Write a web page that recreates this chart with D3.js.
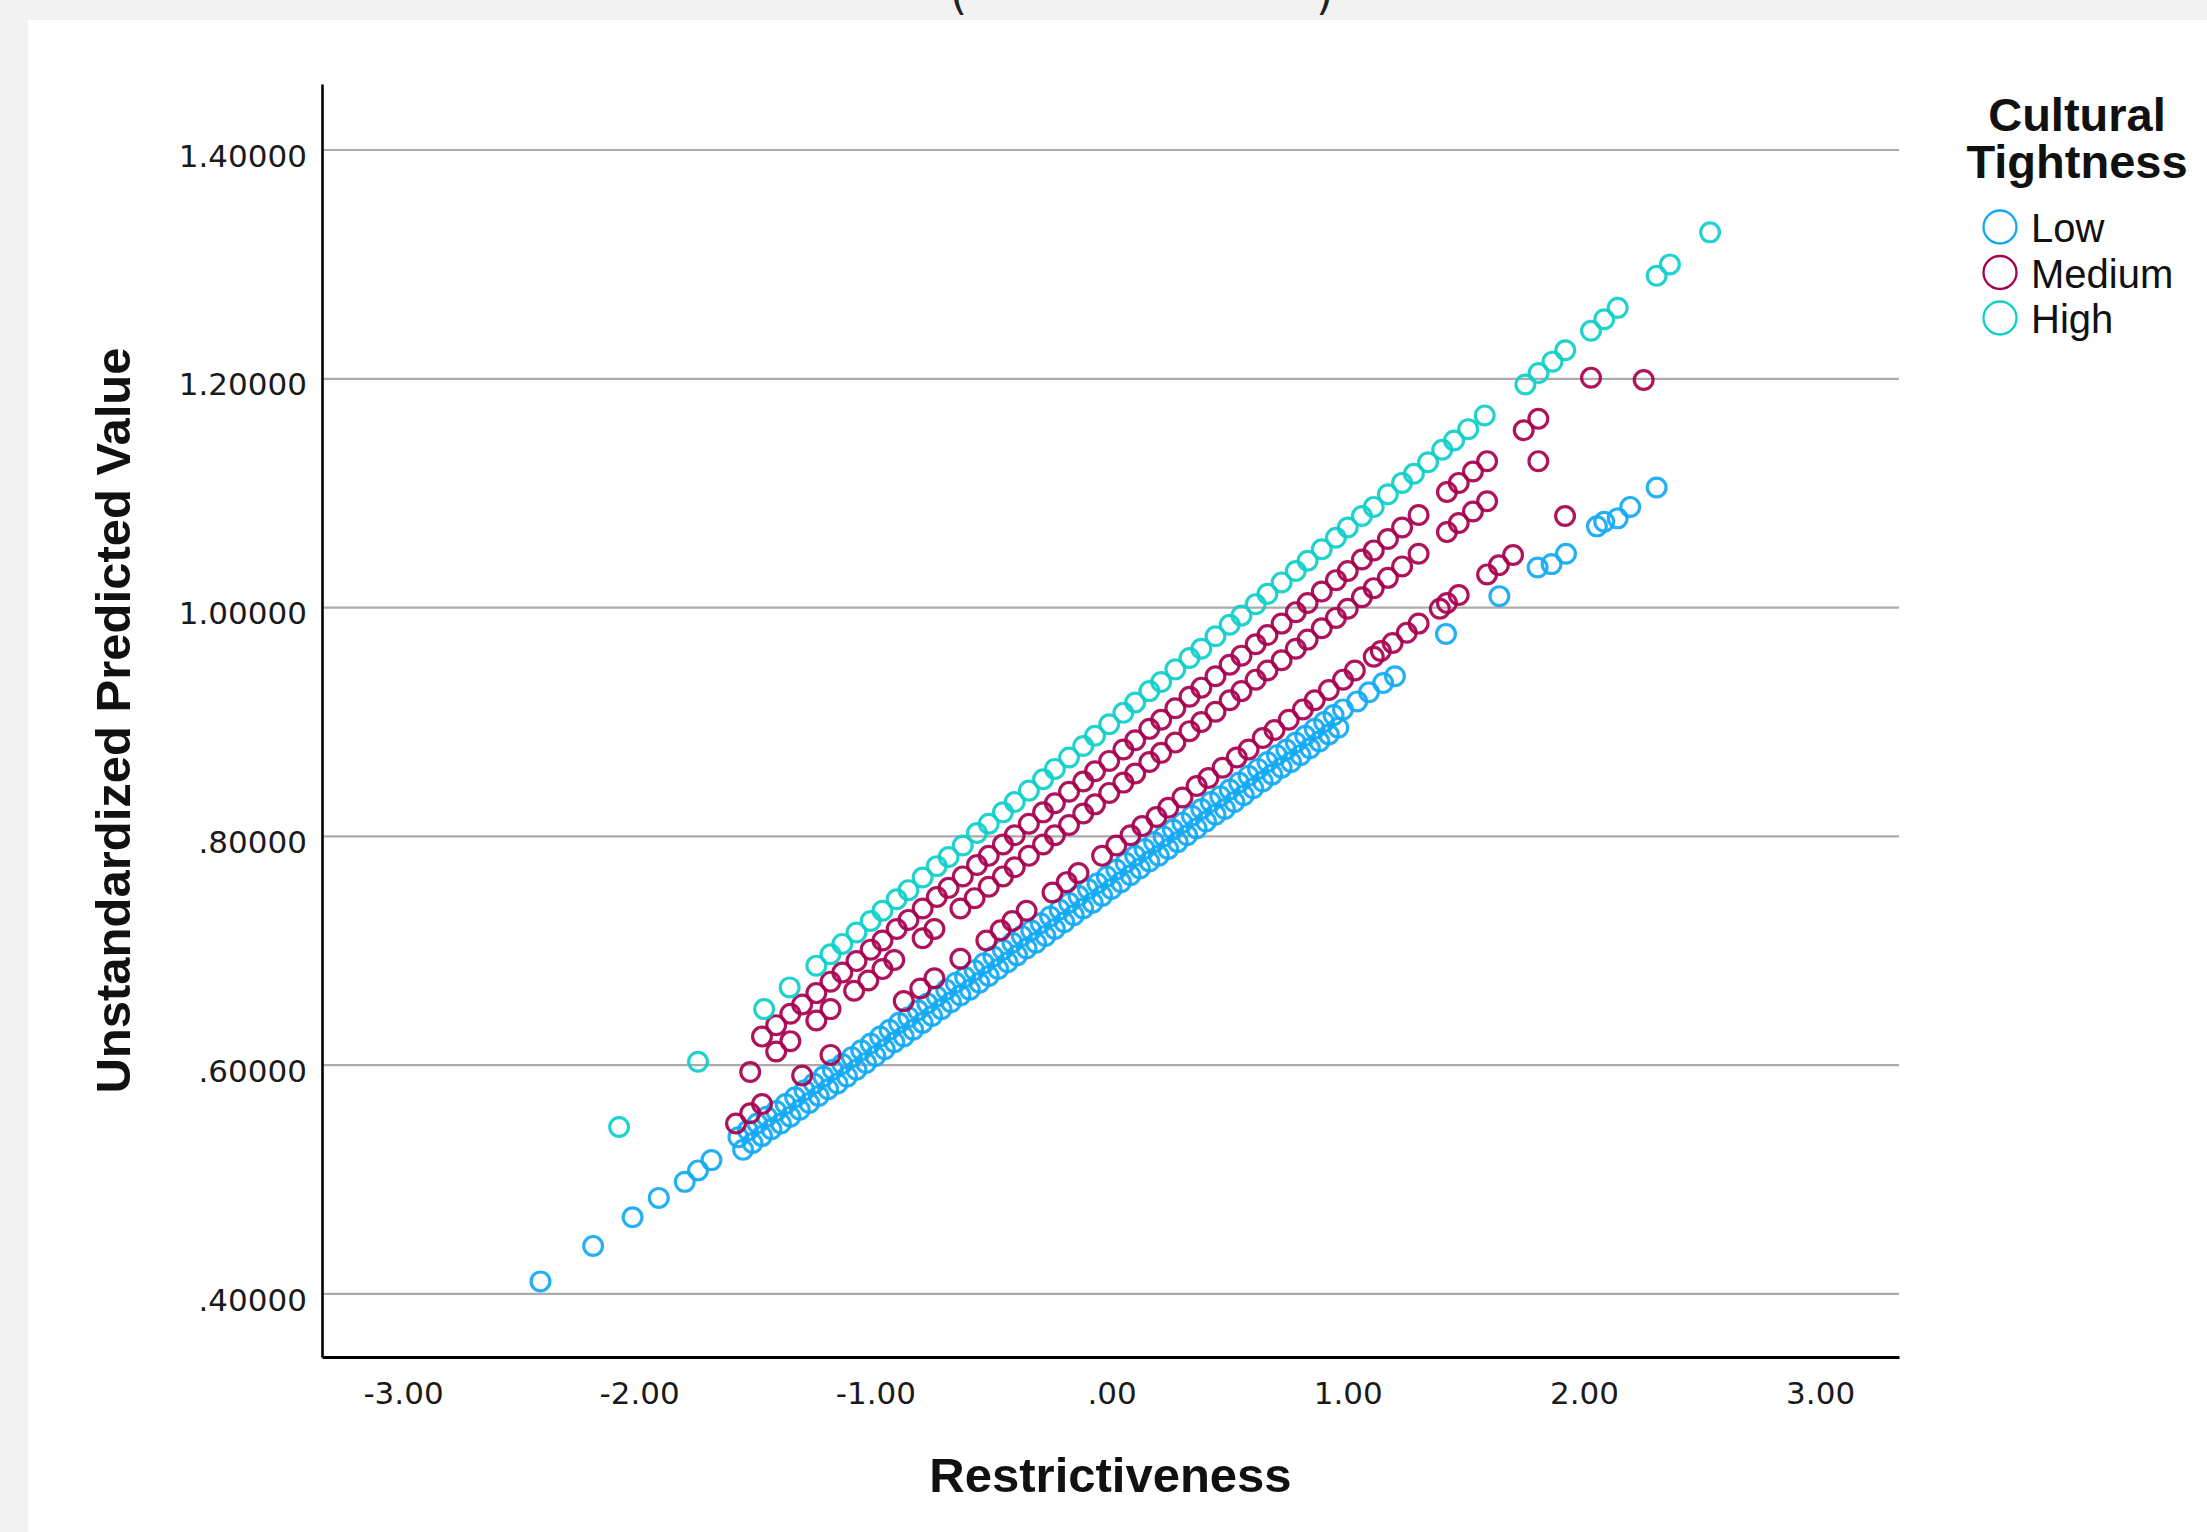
<!DOCTYPE html>
<html><head><meta charset="utf-8">
<script src="https://cdn.jsdelivr.net/npm/d3@7/dist/d3.min.js"></script>
<style>
body{margin:0;background:#f2f2f2;}
svg{display:block;}
</style>
</head><body>
<svg id="chart" width="2207" height="1532"></svg>
<script>
// ---------- data ----------
const seriesNames = ["Low", "Medium", "High"];
const seriesColors = ["#12a9f4", "#a6004e", "#0fcfc9"];

const xTickValues = [-3, -2, -1, 0, 1, 2, 3];
const xTickLabels = ["-3.00", "-2.00", "-1.00", ".00", "1.00", "2.00", "3.00"];
const yTickValues = [0.4, 0.6, 0.8, 1.0, 1.2, 1.4];
const yTickLabels = [".40000", ".60000", ".80000", "1.00000", "1.20000", "1.40000"];

const xTitle = "Restrictiveness";
const yTitle = "Unstandardized Predicted Value";
const legendTitle = ["Cultural", "Tightness"];

const lowX = [-2.418,-2.195,-2.028,-1.917,-1.807,-1.751,-1.694,
  -1.58,-1.56,-1.54,-1.52,-1.50,-1.48,-1.46,-1.44,-1.42,-1.40,-1.38,-1.36,-1.34,-1.32,-1.30,-1.28,-1.26,-1.24,-1.22,-1.20,
  -1.18,-1.16,-1.14,-1.12,-1.10,-1.08,-1.06,-1.04,-1.02,-1.00,-0.98,-0.96,-0.94,-0.92,-0.90,-0.88,-0.86,-0.84,-0.82,-0.80,
  -0.78,-0.76,-0.74,-0.72,-0.70,-0.68,-0.66,-0.64,-0.62,-0.60,-0.58,-0.56,-0.54,-0.52,-0.50,-0.48,-0.46,-0.44,-0.42,-0.40,
  -0.38,-0.36,-0.34,-0.32,-0.30,-0.28,-0.26,-0.24,-0.22,-0.20,-0.18,-0.16,-0.14,-0.12,-0.10,-0.08,-0.06,-0.04,-0.02,0.00,
  0.02,0.04,0.06,0.08,0.10,0.12,0.14,0.16,0.18,0.20,0.22,0.24,0.26,0.28,0.30,0.32,0.34,0.36,0.38,0.40,
  0.42,0.44,0.46,0.48,0.50,0.52,0.54,0.56,0.58,0.60,0.62,0.64,0.66,0.68,0.70,0.72,0.74,0.76,0.78,0.80,
  0.82,0.84,0.86,0.88,0.90,0.92,0.94,0.96,0.98,
  1.04,1.09,1.15,1.20,1.416,1.642,1.804,1.863,1.924,2.055,2.086,2.143,2.196,2.308];
const lowY = [0.411,0.442,0.467,0.484,0.498,0.508,0.517,
  0.537,0.526,0.543,0.532,0.549,0.538,0.555,0.544,0.560,0.549,0.566,0.555,0.572,0.561,0.578,0.567,0.584,0.573,0.590,0.579,
  0.596,0.584,0.601,0.590,0.607,0.596,0.613,0.602,0.619,0.608,0.625,0.614,0.631,0.620,0.637,0.625,0.642,0.631,0.648,0.637,
  0.654,0.643,0.660,0.649,0.666,0.655,0.672,0.661,0.677,0.666,0.683,0.672,0.689,0.678,0.695,0.684,0.701,0.690,0.707,0.696,
  0.713,0.702,0.718,0.707,0.724,0.713,0.730,0.719,0.736,0.725,0.742,0.731,0.748,0.737,0.754,0.742,0.759,0.748,0.765,0.754,
  0.771,0.760,0.777,0.766,0.783,0.772,0.789,0.778,0.795,0.783,0.800,0.789,0.806,0.795,0.812,0.801,0.818,0.807,0.824,0.813,
  0.830,0.819,0.835,0.824,0.841,0.830,0.847,0.836,0.853,0.842,0.859,0.848,0.865,0.854,0.871,0.860,0.876,0.865,0.882,0.871,
  0.888,0.877,0.894,0.883,0.900,0.889,0.906,0.895,0.911,
  0.918,0.926,0.934,0.940,0.977,1.010,1.035,1.038,1.047,1.071,1.075,1.078,1.088,1.105];

const mediumX = [
  -1.48,-1.42,-1.36,-1.31,-1.25,-1.19,-1.14,-1.08,-1.02,-0.97,-0.91,-0.86,-0.80,-0.74,-0.69,-0.63,-0.57,-0.52,-0.46,-0.41,
  -0.35,-0.29,-0.24,-0.18,-0.12,-0.07,-0.01,0.05,0.10,0.16,0.21,0.27,0.33,0.38,0.44,0.50,0.55,0.61,0.66,0.72,
  0.78,0.83,0.89,0.95,1.00,1.06,1.11,1.17,1.23,1.30,1.42,1.47,1.53,1.59,
  -1.53,-1.42,-1.36,-1.25,-1.19,-1.09,-1.03,-0.97,-0.92,-0.80,-0.75,-0.64,-0.58,-0.52,-0.46,-0.41,-0.35,-0.29,-0.24,-0.18,
  -0.12,-0.07,-0.01,0.05,0.10,0.16,0.21,0.27,0.33,0.38,0.44,0.50,0.55,0.61,0.66,0.72,0.78,0.83,0.89,0.95,
  1.00,1.06,1.11,1.17,1.23,1.30,1.42,1.47,1.53,1.59,
  -1.59,-1.53,-1.48,-1.31,-1.19,-0.88,-0.81,-0.75,-0.64,-0.53,-0.47,-0.42,-0.36,-0.25,-0.19,-0.14,-0.04,0.02,0.08,0.13,
  0.19,0.24,0.30,0.36,0.41,0.47,0.53,0.58,0.64,0.69,0.75,0.81,0.86,0.92,0.98,1.03,1.11,1.14,1.19,1.25,
  1.30,1.39,1.42,1.47,1.59,1.64,1.70,
  1.745,1.807,1.807,1.920,2.030,2.253];
const mediumY = [
  0.625,0.635,0.645,0.653,0.663,0.673,0.681,0.691,0.701,0.709,0.719,0.727,0.737,0.747,0.755,0.765,0.775,0.783,0.793,0.801,
  0.811,0.821,0.829,0.839,0.848,0.857,0.866,0.876,0.884,0.894,0.902,0.912,0.922,0.930,0.940,0.950,0.958,0.968,0.976,0.986,
  0.996,1.004,1.014,1.024,1.032,1.042,1.050,1.060,1.070,1.081,1.101,1.109,1.119,1.128,
  0.594,0.612,0.621,0.639,0.649,0.665,0.674,0.684,0.692,0.711,0.719,0.737,0.746,0.756,0.765,0.773,0.783,0.793,0.801,0.810,
  0.820,0.828,0.838,0.847,0.855,0.865,0.873,0.882,0.892,0.900,0.909,0.919,0.927,0.937,0.945,0.954,0.964,0.972,0.982,0.991,
  0.999,1.009,1.017,1.026,1.036,1.047,1.066,1.074,1.084,1.093,
  0.549,0.558,0.566,0.591,0.609,0.656,0.667,0.676,0.693,0.709,0.718,0.726,0.735,0.751,0.760,0.768,0.783,0.792,0.801,0.809,
  0.817,0.825,0.834,0.844,0.851,0.860,0.869,0.876,0.886,0.893,0.902,0.911,0.919,0.928,0.937,0.945,0.957,0.962,0.969,0.978,
  0.986,0.999,1.004,1.011,1.029,1.037,1.046,
  1.155,1.165,1.128,1.080,1.201,1.199];

const highX = [-2.085,-1.751,-1.471,-1.363,
  -1.25,-1.19,-1.14,-1.08,-1.02,-0.97,-0.91,-0.86,-0.80,-0.74,-0.69,-0.63,-0.57,-0.52,-0.46,-0.41,-0.35,-0.29,-0.24,-0.18,
  -0.12,-0.07,-0.01,0.05,0.10,0.16,0.21,0.27,0.33,0.38,0.44,0.50,0.55,0.61,0.66,0.72,0.78,0.83,0.89,0.95,
  1.00,1.06,1.11,1.17,1.23,1.28,1.34,1.40,1.45,1.51,1.58,
  1.752,1.808,1.867,1.921,2.030,2.086,2.143,2.308,2.364,2.534];
const highY = [0.546,0.603,0.649,0.668,
  0.687,0.697,0.706,0.716,0.726,0.735,0.745,0.753,0.764,0.774,0.782,0.792,0.803,0.811,0.821,0.830,0.840,0.850,0.859,0.869,
  0.879,0.888,0.898,0.908,0.917,0.927,0.935,0.946,0.956,0.964,0.975,0.985,0.993,1.003,1.012,1.022,1.032,1.041,1.051,1.061,
  1.070,1.080,1.088,1.099,1.109,1.117,1.127,1.138,1.146,1.156,1.168,
  1.195,1.205,1.215,1.225,1.242,1.252,1.262,1.290,1.300,1.328];

// ---------- layout ----------
const svg = d3.select("#chart");
const W = 2207, H = 1532;
const plot = {left: 322, right: 1899, top: 84, bottom: 1357};

const x = d3.scaleLinear().domain([-3.343, 3.334]).range([plot.left, plot.right]);
const y = d3.scaleLinear().domain([0.3449, 1.4577]).range([plot.bottom, plot.top]);

svg.append("rect").attr("x", 0).attr("y", 0).attr("width", W).attr("height", H).attr("fill", "#f2f2f2");
svg.append("rect").attr("x", 28).attr("y", 20).attr("width", W - 28).attr("height", H - 20).attr("fill", "#ffffff");

// cut-off title fragments at the very top (the reference shows only their lower tails)
svg.append("text").attr("x", 950).attr("y", 9).attr("font-family", "DejaVu Sans").attr("font-size", 44)
  .attr("fill", "#222").text("(");
svg.append("text").attr("x", 1316).attr("y", 9).attr("font-family", "DejaVu Sans").attr("font-size", 44)
  .attr("fill", "#222").text(")");

// gridlines
svg.append("g").selectAll("line").data(yTickValues).join("line")
  .attr("x1", plot.left).attr("x2", plot.right)
  .attr("y1", d => y(d)).attr("y2", d => y(d))
  .attr("stroke", "#ababab").attr("stroke-width", 2.2);

// points
const series = [
  {name: seriesNames[0], color: seriesColors[0], xs: lowX, ys: lowY},
  {name: seriesNames[1], color: seriesColors[1], xs: mediumX, ys: mediumY},
  {name: seriesNames[2], color: seriesColors[2], xs: highX, ys: highY}
];
series.forEach(s => {
  const pts = s.xs.map((v, i) => [v, s.ys[i]]);
  svg.append("g").selectAll("circle").data(pts).join("circle")
    .attr("cx", d => x(d[0])).attr("cy", d => y(d[1])).attr("r", 9.4)
    .attr("fill", "none").attr("stroke", s.color).attr("stroke-width", 3.2).attr("stroke-opacity", 0.92);
});

// axes
const tickFont = "DejaVu Sans";
const yAxis = d3.axisLeft(y).tickValues(yTickValues)
  .tickFormat((d, i) => yTickLabels[i]).tickSize(0).tickSizeOuter(0).tickPadding(15);
const gy = svg.append("g").attr("transform", `translate(${plot.left},0)`).call(yAxis);
gy.select(".domain").attr("stroke", "#000").attr("stroke-width", 2.6);
gy.selectAll("text").attr("font-family", tickFont).attr("font-size", 31).attr("fill", "#1a1a1a").attr("dy", "0.52em");

const xAxis = d3.axisBottom(x).tickValues(xTickValues)
  .tickFormat((d, i) => xTickLabels[i]).tickSize(0).tickSizeOuter(0).tickPadding(25);
const gx = svg.append("g").attr("transform", `translate(0,${plot.bottom})`).call(xAxis);
gx.select(".domain").attr("stroke", "#000").attr("stroke-width", 3);
gx.selectAll("text").attr("font-family", tickFont).attr("font-size", 31).attr("fill", "#1a1a1a");

// axis titles
svg.append("text").attr("x", (plot.left + plot.right) / 2).attr("y", 1492)
  .attr("text-anchor", "middle").attr("font-family", "Liberation Sans").attr("font-weight", "bold")
  .attr("font-size", 49).attr("fill", "#111").text(xTitle);
svg.append("text").attr("transform", `translate(130,${(plot.top + plot.bottom) / 2}) rotate(-90)`)
  .attr("text-anchor", "middle").attr("font-family", "Liberation Sans").attr("font-weight", "bold")
  .attr("font-size", 49).attr("fill", "#111").text(yTitle);

// legend
const lg = svg.append("g");
const lt = lg.append("text").attr("text-anchor", "middle").attr("font-family", "Liberation Sans")
  .attr("font-weight", "bold").attr("font-size", 47).attr("fill", "#111");
lt.selectAll("tspan").data(legendTitle).join("tspan")
  .attr("x", 2077).attr("y", (d, i) => 131 + i * 47).text(d => d);
const items = lg.selectAll("g.item").data(series).join("g").attr("class", "item")
  .attr("transform", (d, i) => `translate(2000,${227 + i * 45.5})`);
items.append("circle").attr("r", 16.5).attr("fill", "none")
  .attr("stroke", d => d.color).attr("stroke-width", 2.3);
items.append("text").attr("x", 31).attr("y", 15).attr("font-family", "Liberation Sans")
  .attr("font-size", 40).attr("fill", "#111").text(d => d.name);
</script>
</body></html>
